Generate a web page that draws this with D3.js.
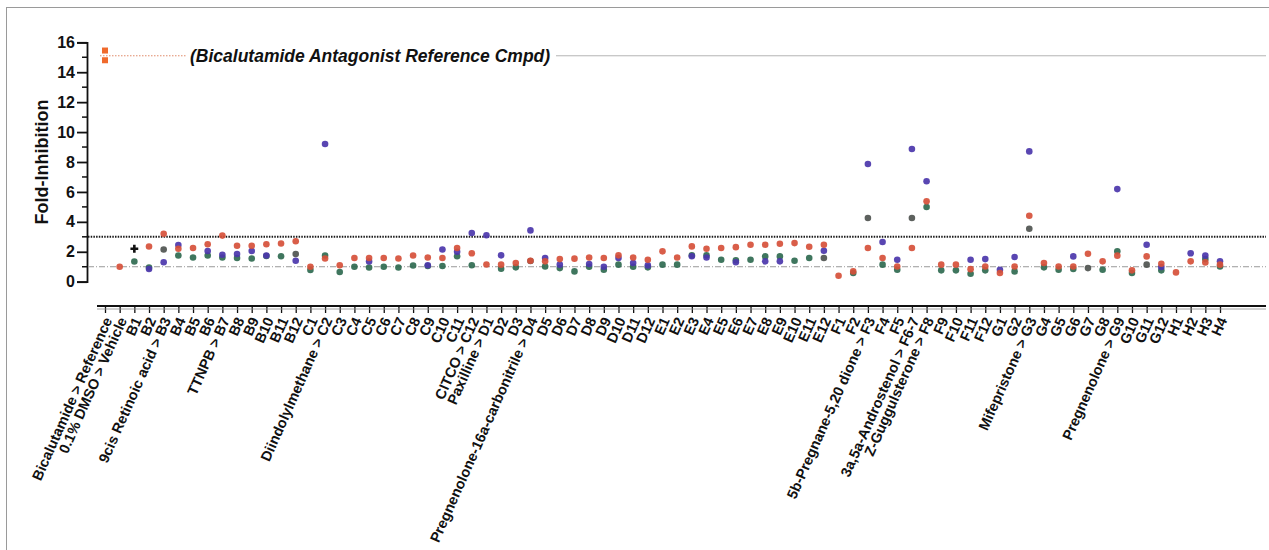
<!DOCTYPE html>
<html>
<head>
<meta charset="utf-8">
<script src="https://cdn.jsdelivr.net/npm/d3@7"></script>
<style>
  html, body { margin: 0; padding: 0; background: #fff; }
  svg { display: block; font-family: "Liberation Sans", Arial, sans-serif; }
</style>
</head>
<body>
<svg id="chart" width="1269" height="550"></svg>
<script>
// Compound plate positions (x categories)
const categories = [
  "Bicalutamide > Reference", "0.1% DMSO > Vehicle", "B1", "B2", "9cis Retinoic acid > B3",
  "B4", "B5", "B6", "TTNPB > B7", "B8", "B9", "B10", "B11", "B12",
  "C1", "Diindolylmethane > C2", "C3", "C4", "C5", "C6", "C7", "C8", "C9", "C10", "C11",
  "CITCO > C12", "Paxilline > D1", "D2", "D3", "Pregnenolone-16a-carbonitrile > D4",
  "D5", "D6", "D7", "D8", "D9", "D10", "D11", "D12",
  "E1", "E2", "E3", "E4", "E5", "E6", "E7", "E8", "E9", "E10", "E11", "E12",
  "F1", "F2", "5b-Pregnane-5,20 dione > F3", "F4", "F5", "3a,5a-Androstenol > F6-7",
  "Z-Guggulsterone > F8", "F9", "F10", "F11", "F12",
  "G1", "G2", "Mifepristone > G3", "G4", "G5", "G6", "G7", "G8", "Pregnenolone > G9",
  "G10", "G11", "G12", "H1", "H2", "H3", "H4"
];

// Reference antagonist replicates (plotted at the first position)
const referenceValues = [15.45, 14.8];
const referenceMean = 15.1;
const vehicleLevel = 1;
const thresholdLevel = 3;

// Fold-inhibition per receptor series, one entry per category (null = not plotted)
const redValues = [
  null, 1.0, null, 2.35, 3.2, 2.2, 2.25, 2.5, 3.08, 2.4, 2.4, 2.5, 2.55, 2.7,
  1.0, 1.55, 1.1, 1.58, 1.58, 1.58, 1.55, 1.75, 1.62, 1.58, 2.25, 1.9,
  1.15, 1.14, 1.25, 1.4, 1.36, 1.51, 1.54, 1.62, 1.58, 1.76, 1.62, 1.47,
  2.03, 1.62, 2.36, 2.2, 2.25, 2.31, 2.47, 2.47, 2.54, 2.58, 2.34, 2.47,
  0.4, 0.69, 2.25, 1.58, 1.02, 2.25, 5.37, 1.14, 1.14, 0.84, 1.02,
  0.58, 1.02, 4.41, 1.25, 1.02, 1.02, 1.87, 1.36, 1.74, 0.76, 1.69, 1.2,
  0.62, 1.36, 1.29, 1.14
];
const blueValues = [
  null, null, null, 0.85, 1.3, 2.45, null, 2.05, 1.8, 1.85, 2.05, 1.75, null, 1.4,
  null, 9.2, null, null, 1.35, null, null, null, 1.1, 2.15, 2.0, 3.25,
  3.1, 1.76, null, 3.43, 1.58, 1.14, null, 1.18, 1.0, 1.58, 1.25, 1.09,
  null, null, 1.7, 1.62, null, 1.3, null, 1.36, 1.36, null, null, 2.07,
  null, null, 7.87, 2.65, 1.47, 8.87, 6.71, null, null, 1.47, 1.51,
  0.8, 1.65, 8.71, null, null, 1.69, null, null, 6.19, null, 2.47, 0.98,
  null, 1.9, 1.74, 1.36
];
const greenValues = [
  null, null, 1.35, 0.95, null, 1.75, 1.62, 1.75, 1.62, 1.58, 1.55, 1.72, 1.7, null,
  0.78, 1.75, 0.65, 1.0, 0.95, 1.0, 0.95, 1.08, 1.05, 1.05, 1.7, 1.1,
  null, 0.87, 0.96, null, 1.02, 0.91, 0.69, 1.0, 0.8, 1.14, 1.0, 0.96,
  1.14, 1.14, 1.76, 1.76, 1.47, 1.43, 1.47, 1.69, 1.69, 1.4, 1.58, null,
  null, 0.58, null, 1.14, 0.8, null, 4.99, 0.76, 0.76, 0.53, 0.76,
  null, 0.69, null, 0.96, 0.8, 0.85, null, 0.8, 2.03, 0.58, null, 0.76,
  null, null, 1.51, 1.02
];
const grayValues = [
  null, null, null, null, 2.15, null, null, null, null, null, null, null, null, 1.85,
  null, null, null, null, null, null, null, null, null, null, null, null,
  null, null, null, 1.38, null, null, null, null, null, null, null, null,
  null, null, null, null, null, null, null, null, null, null, null, 1.58,
  null, null, 4.26, null, null, 4.26, null, null, null, null, null,
  null, null, 3.54, null, null, null, 0.91, null, null, null, 1.14, null,
  null, null, null, null
];
// single cross-marked replicate at B1
const crossValues = [{ cat: "B1", value: 2.2 }];

const yTicks = [0, 2, 4, 6, 8, 10, 12, 14, 16];
const yMinorTicks = [1, 3, 5, 7, 9, 11, 13, 15];

const svg = d3.select("#chart");

// outer frame
svg.append("rect")
  .attr("x", 6.5).attr("y", 7.5).attr("width", 1280).attr("height", 560)
  .attr("fill", "none").attr("stroke", "#9a9a9a").attr("stroke-width", 1);

const y = d3.scaleLinear().domain([0, 16]).range([281.7, 42.3]);
const x = d3.scalePoint().domain(categories).range([105, 1220]);

const axisX = 87;
const baseY = 306;
const rightEdge = 1266;

// y axis
const yAxis = d3.axisLeft(y).tickValues(yTicks).tickSize(10).tickPadding(2).tickFormat(d3.format("d"));
const gy = svg.append("g").attr("transform", `translate(${axisX},0)`).call(yAxis);
gy.select(".domain").attr("stroke", "#111").attr("stroke-width", 1.8);
gy.selectAll(".tick line").attr("stroke", "#111").attr("stroke-width", 1.8);
gy.selectAll(".tick text")
  .attr("font-size", 16).attr("font-weight", "bold").attr("fill", "#111")
  .attr("font-family", "Liberation Sans, Arial, sans-serif");
svg.append("g").selectAll("line").data(yMinorTicks).join("line")
  .attr("x1", axisX - 5).attr("x2", axisX)
  .attr("y1", d => y(d)).attr("y2", d => y(d))
  .attr("stroke", "#111").attr("stroke-width", 1.5);

svg.append("text")
  .attr("transform", `translate(48,${(y(0) + y(16)) / 2}) rotate(-90)`)
  .attr("text-anchor", "middle")
  .attr("font-size", 18).attr("font-weight", "bold").attr("fill", "#111")
  .text("Fold-Inhibition");

// reference lines
svg.append("line")
  .attr("x1", axisX + 1).attr("x2", rightEdge)
  .attr("y1", y(vehicleLevel)).attr("y2", y(vehicleLevel))
  .attr("stroke", "#9a9a9a").attr("stroke-width", 1).attr("stroke-dasharray", "6,2,1,2");
svg.append("line")
  .attr("x1", axisX + 1).attr("x2", rightEdge)
  .attr("y1", y(thresholdLevel)).attr("y2", y(thresholdLevel))
  .attr("stroke", "#1a1a1a").attr("stroke-width", 2).attr("stroke-dasharray", "1.5,1.2");

const refLineY = y(referenceMean);
svg.append("line")
  .attr("x1", 100).attr("x2", 186).attr("y1", refLineY).attr("y2", refLineY)
  .attr("stroke", "#e08a6a").attr("stroke-width", 1).attr("stroke-dasharray", "1.5,1.5");
svg.append("line")
  .attr("x1", 556).attr("x2", rightEdge).attr("y1", refLineY).attr("y2", refLineY)
  .attr("stroke", "#b5b5b5").attr("stroke-width", 1);
svg.append("text")
  .attr("x", 190).attr("y", refLineY + 6)
  .attr("font-size", 17.5).attr("font-weight", "bold").attr("font-style", "italic").attr("fill", "#111")
  .text("(Bicalutamide Antagonist Reference Cmpd)");

// x axis
const xAxis = d3.axisBottom(x).tickSize(7).tickFormat("");
const gx = svg.append("g").attr("transform", `translate(0,${baseY})`).call(xAxis);
gx.select(".domain").remove();
gx.selectAll(".tick line").attr("stroke", "#111").attr("stroke-width", 1.3);
svg.append("line").attr("x1", 97).attr("x2", rightEdge).attr("y1", baseY).attr("y2", baseY)
  .attr("stroke", "#111").attr("stroke-width", 2);
svg.append("line").attr("x1", 97).attr("x2", rightEdge).attr("y1", baseY + 3).attr("y2", baseY + 3)
  .attr("stroke", "#8a8a8a").attr("stroke-width", 0.8);

svg.append("g").selectAll("text").data(categories).join("text")
  .attr("transform", d => `translate(${x(d) + 3},${baseY + 12}) rotate(-66)`)
  .attr("text-anchor", "end").attr("dy", "0.35em")
  .attr("font-size", 14.5).attr("font-weight", "bold").attr("fill", "#111")
  .text(d => d);

// points
function drawSeries(values, color) {
  const pts = values.map((v, i) => ({ cat: categories[i], value: v })).filter(d => d.value != null);
  svg.append("g").selectAll("circle").data(pts).join("circle")
    .attr("cx", d => x(d.cat)).attr("cy", d => y(d.value)).attr("r", 3.3)
    .attr("fill", color).attr("opacity", 0.92);
}
drawSeries(greenValues, "#2f6a50");
drawSeries(grayValues, "#4f5450");
drawSeries(blueValues, "#4b36ab");
drawSeries(redValues, "#d6503a");

svg.append("g").selectAll("path").data(crossValues).join("path")
  .attr("transform", d => `translate(${x(d.cat)},${y(d.value)})`)
  .attr("d", d3.symbol(d3.symbolCross, 34)())
  .attr("fill", "#111");

svg.append("g").selectAll("rect").data(referenceValues).join("rect")
  .attr("x", x(categories[0]) - 3).attr("y", d => y(d) - 3)
  .attr("width", 6).attr("height", 6)
  .attr("fill", "#f06a2c");
</script>
</body>
</html>
